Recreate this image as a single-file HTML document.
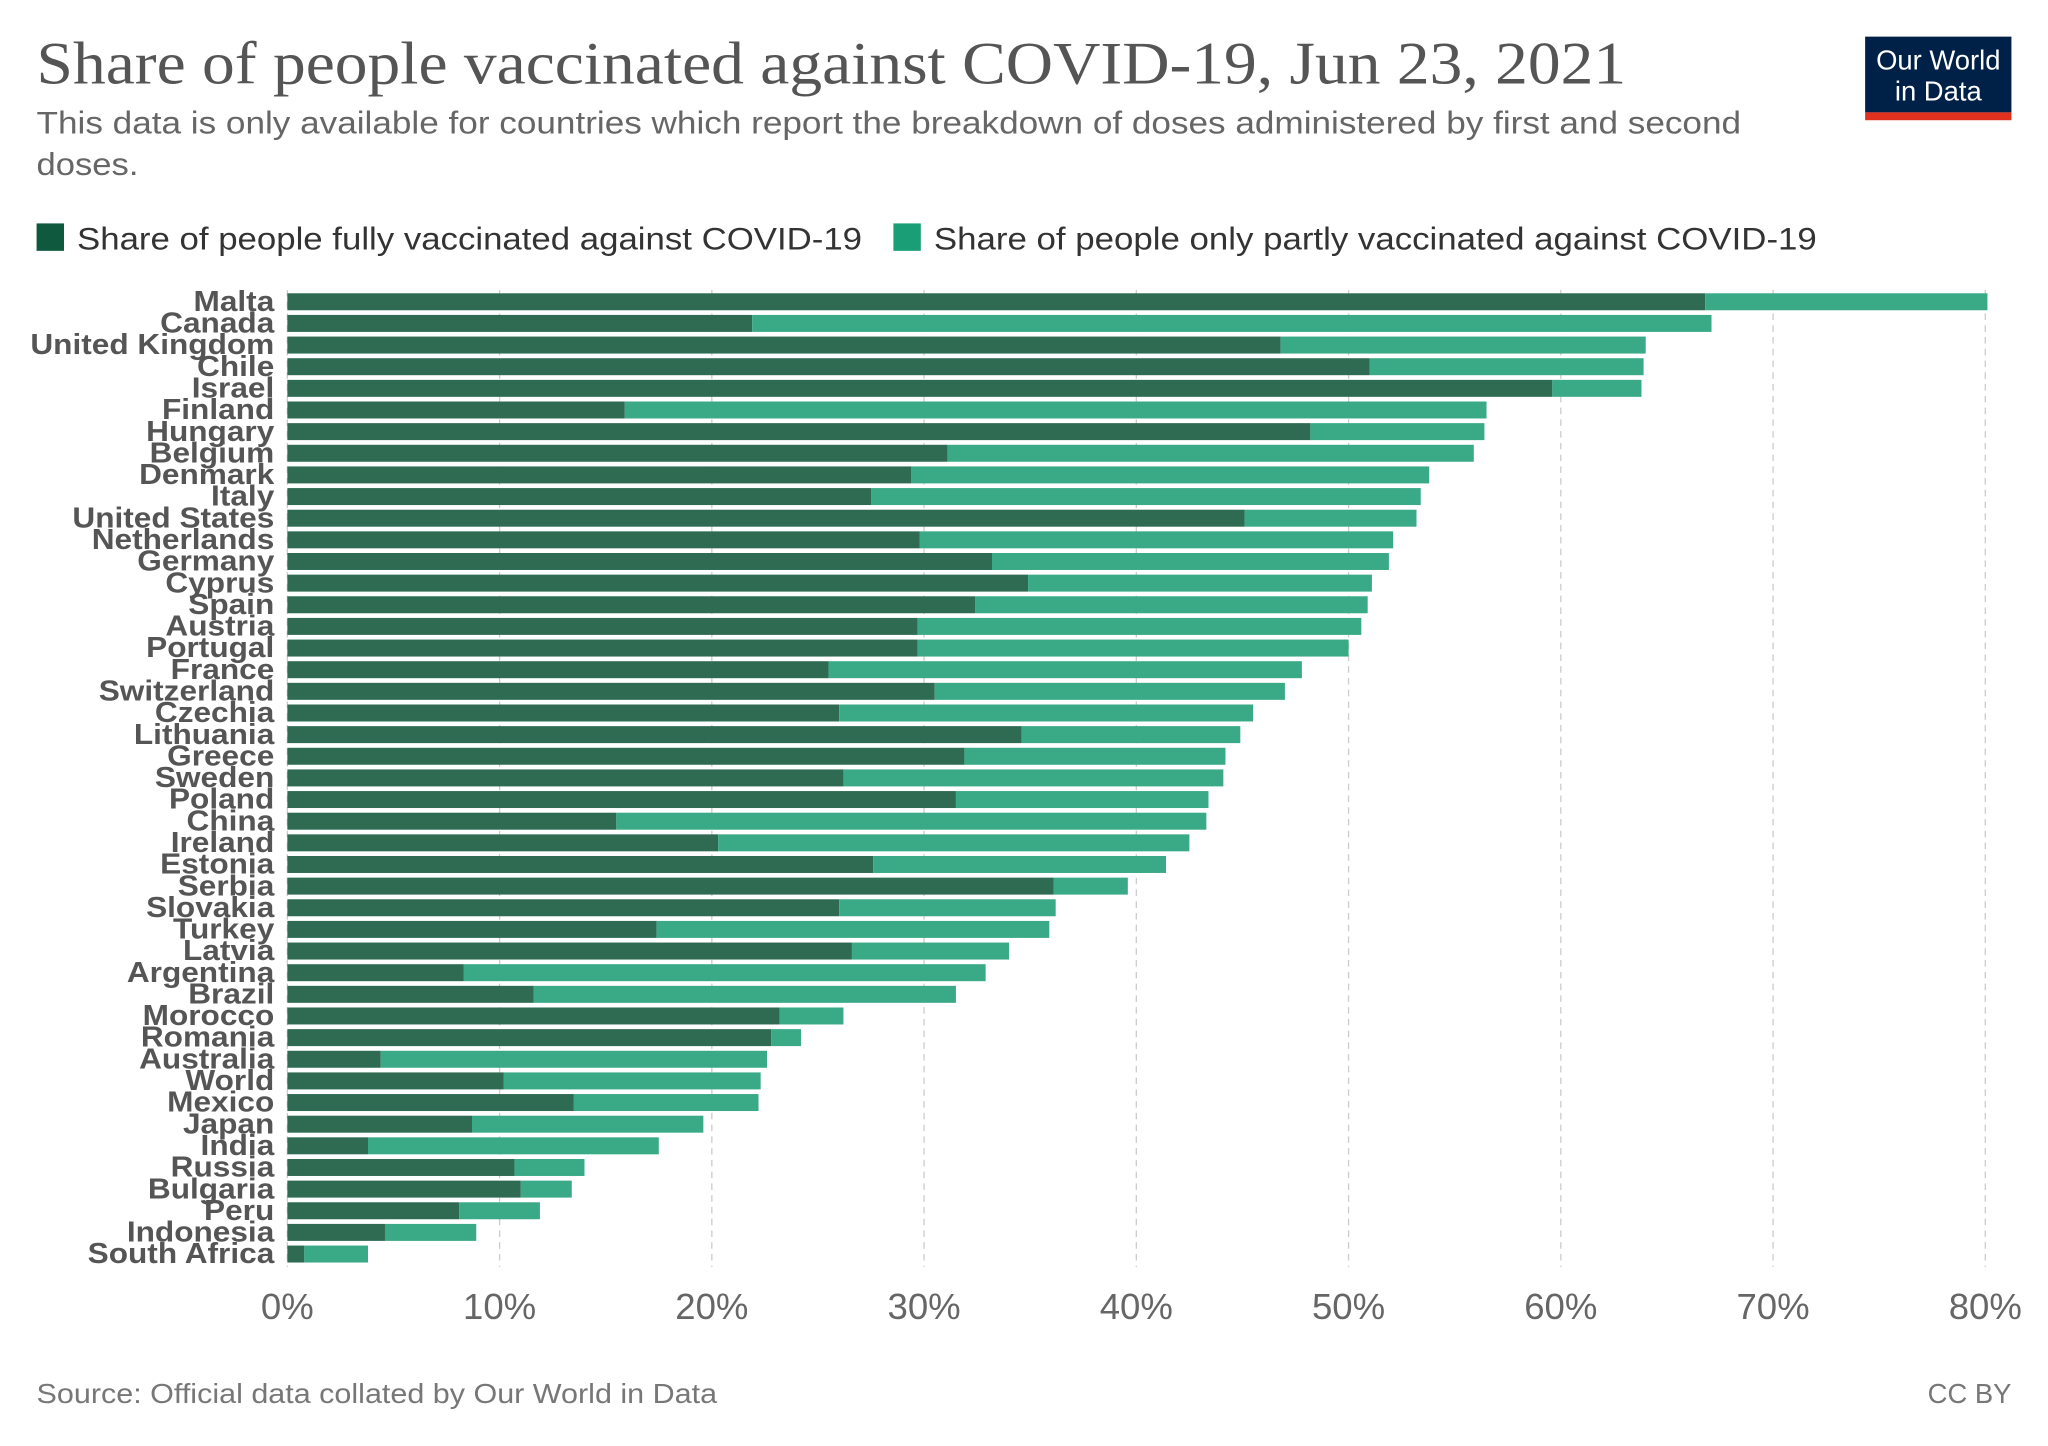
<!DOCTYPE html>
<html><head><meta charset="utf-8"><style>
html,body{margin:0;padding:0;background:#fff;}
svg{display:block;}
</style></head><body>
<svg id="chart" xmlns="http://www.w3.org/2000/svg" width="2048" height="1446" viewBox="0 0 1568 1107" font-family="Liberation Sans, sans-serif">
<text x="28" y="64" font-family="Liberation Serif, serif" font-size="46" fill="#555" textLength="1217" lengthAdjust="spacingAndGlyphs">Share of people vaccinated against COVID-19, Jun 23, 2021</text>
<text x="28" y="102" font-size="24" fill="#666" textLength="1305" lengthAdjust="spacingAndGlyphs">This data is only available for countries which report the breakdown of doses administered by first and second</text>
<text x="28" y="134" font-size="24" fill="#666" textLength="78" lengthAdjust="spacingAndGlyphs">doses.</text>
<g>
<rect x="1428" y="28" width="112" height="58" fill="#002147"/>
<rect x="1428" y="86" width="112" height="6" fill="#e0301e"/>
<text x="1484" y="53" text-anchor="middle" font-size="21" fill="#fff">Our World</text>
<text x="1484" y="77" text-anchor="middle" font-size="21" fill="#fff">in Data</text>
</g>
<g>
<rect x="28" y="171" width="21" height="21" fill="#0f5a3f"/>
<text x="59" y="191" font-size="24" fill="#333" textLength="601" lengthAdjust="spacingAndGlyphs">Share of people fully vaccinated against COVID-19</text>
</g>
<g>
<rect x="684" y="171" width="21" height="21" fill="#1a9e76"/>
<text x="715" y="191" font-size="24" fill="#333" textLength="676" lengthAdjust="spacingAndGlyphs">Share of people only partly vaccinated against COVID-19</text>
</g>
<g id="grid"></g>
<g id="bars"></g>
<g id="labels"></g>
<g id="xticks"></g>
<text x="28" y="1074" font-size="21" fill="#777" textLength="521" lengthAdjust="spacingAndGlyphs">Source: Official data collated by Our World in Data</text>
<text x="1540" y="1074" text-anchor="end" font-size="21" fill="#777">CC BY</text>
</svg>
<script>
const countries=["Malta","Canada","United Kingdom","Chile","Israel","Finland","Hungary","Belgium","Denmark","Italy","United States","Netherlands","Germany","Cyprus","Spain","Austria","Portugal","France","Switzerland","Czechia","Lithuania","Greece","Sweden","Poland","China","Ireland","Estonia","Serbia","Slovakia","Turkey","Latvia","Argentina","Brazil","Morocco","Romania","Australia","World","Mexico","Japan","India","Russia","Bulgaria","Peru","Indonesia","South Africa"];
const fully=[66.8,21.9,46.8,51.0,59.6,15.9,48.2,31.1,29.4,27.5,45.1,29.8,33.2,34.9,32.4,29.7,29.7,25.5,30.5,26.0,34.6,31.9,26.2,31.5,15.5,20.3,27.6,36.1,26.0,17.4,26.6,8.3,11.6,23.2,22.8,4.4,10.2,13.5,8.7,3.8,10.7,11.0,8.1,4.6,0.8];
const total=[80.1,67.1,64.0,63.9,63.8,56.5,56.4,55.9,53.8,53.4,53.2,52.1,51.9,51.1,50.9,50.6,50.0,47.8,47.0,45.5,44.9,44.2,44.1,43.4,43.3,42.5,41.4,39.6,36.2,35.9,34.0,32.9,31.5,26.2,24.2,22.6,22.3,22.2,19.6,17.5,14.0,13.4,11.9,8.9,3.8];
const ticks=[0,10,20,30,40,50,60,70,80];
const NS="http://www.w3.org/2000/svg";
const x=v=>220+v*16.25;
const y=i=>231+i*16.57;
function mk(tag,attrs,parent){const e=document.createElementNS(NS,tag);for(const k in attrs)e.setAttribute(k,attrs[k]);parent.appendChild(e);return e;}
const grid=document.getElementById('grid'),bars=document.getElementById('bars'),labels=document.getElementById('labels'),xt=document.getElementById('xticks');
ticks.forEach(t=>{
 const l=mk('line',{x1:x(t),x2:x(t),y1:222,y2:970,stroke:'#ccc','stroke-dasharray':'5,4','stroke-width':1},grid);
 
 
 const tx=mk('text',{x:x(t),y:1010,'text-anchor':'middle','font-size':28,fill:'#666'},xt);
 tx.textContent=t+'%';
 
 
});
countries.forEach((c,i)=>{
 const slug=c.toLowerCase().replace(/ /g,'-');
 const r1=mk('rect',{x:x(0),y:y(i)-6.5,width:x(fully[i])-x(0),height:13,fill:'#2f6a53'},bars);
 
 
 const r2=mk('rect',{x:x(fully[i]),y:y(i)-6.5,width:x(total[i])-x(fully[i]),height:13,fill:'#39aa85'},bars);
 
 
 const t=mk('text',{x:210,y:y(i)+7,'text-anchor':'end','font-size':22,'font-weight':'bold',fill:'#555',transform:'translate(210 0) scale(1.1 1) translate(-210 0)'},labels);
 t.textContent=c;
 
 
});
</script>
</body></html>
